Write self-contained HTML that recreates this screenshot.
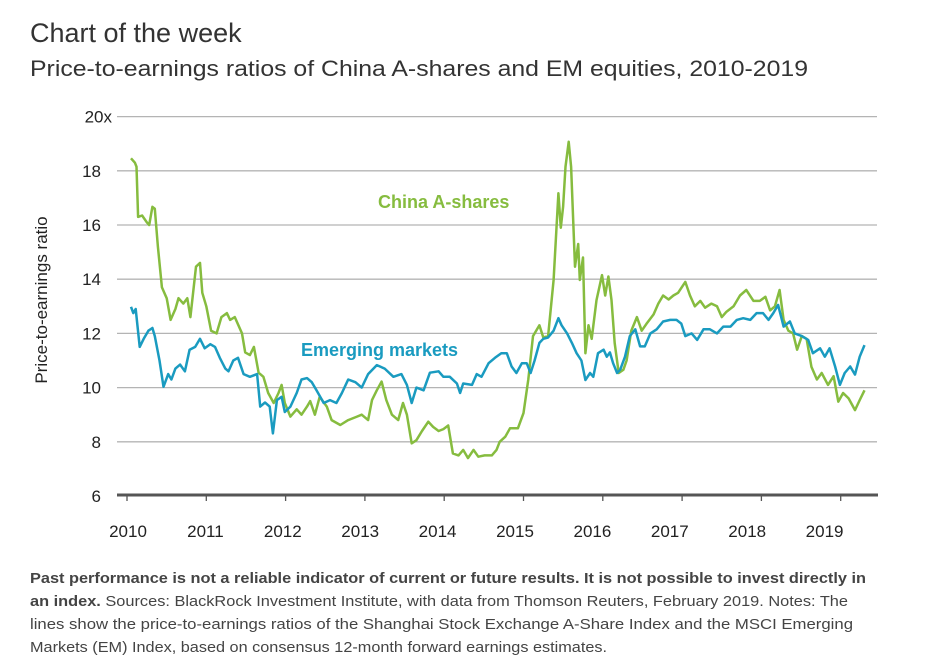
<!DOCTYPE html>
<html><head><meta charset="utf-8"><style>
html,body{margin:0;padding:0;background:#fff}
svg{display:block;font-family:"Liberation Sans",Arial,sans-serif}
</style></head><body>
<svg id="chart" width="932" height="671" viewBox="0 0 932 671">
<text x="30" y="42" font-size="27" fill="#333">Chart of the week</text>
<text x="30" y="76" font-size="22" fill="#333" textLength="778" lengthAdjust="spacingAndGlyphs">Price-to-earnings ratios of China A-shares and EM equities, 2010-2019</text>
<g id="grid"></g>
<g id="yticks"></g>
<g id="xaxis"></g>
<text transform="translate(47,300) rotate(-90)" text-anchor="middle" font-size="17" fill="#222">Price-to-earnings ratio</text>
<g id="series"></g>
<text x="378" y="208" font-size="18" font-weight="bold" fill="#86bc3f">China A-shares</text>
<text x="301" y="356" font-size="18" font-weight="bold" fill="#1a9bc0">Emerging markets</text>
<g font-size="15" fill="#444">
<text x="30" y="583" textLength="836" lengthAdjust="spacingAndGlyphs" font-weight="bold">Past performance is not a reliable indicator of current or future results. It is not possible to invest directly in</text>
<text x="30" y="606" textLength="818" lengthAdjust="spacingAndGlyphs"><tspan font-weight="bold">an index.</tspan> Sources: BlackRock Investment Institute, with data from Thomson Reuters, February 2019. Notes: The</text>
<text x="30" y="629" textLength="823" lengthAdjust="spacingAndGlyphs">lines show the price-to-earnings ratios of the Shanghai Stock Exchange A-Share Index and the MSCI Emerging</text>
<text x="30" y="652" textLength="577" lengthAdjust="spacingAndGlyphs">Markets (EM) Index, based on consensus 12-month forward earnings estimates.</text>
</g>
</svg>
<script>
const yTicks = [6, 8, 10, 12, 14, 16, 18, 20];
const yTickLabels = ["6", "8", "10", "12", "14", "16", "18", "20x"];
const xYears = [2010, 2011, 2012, 2013, 2014, 2015, 2016, 2017, 2018, 2019];
const xLabels = ["2010", "2011", "2012", "2013", "2014", "2015", "2016", "2017", "2018", "2019"];
const chinaDates = [2010.05,2010.10,2010.12,2010.14,2010.19,2010.25,2010.28,2010.32,2010.35,2010.39,2010.44,2010.50,2010.55,2010.61,2010.65,2010.71,2010.76,2010.80,2010.87,2010.92,2010.95,2011.00,2011.06,2011.13,2011.19,2011.26,2011.30,2011.36,2011.45,2011.49,2011.55,2011.60,2011.66,2011.72,2011.78,2011.85,2011.91,2011.95,2011.99,2012.06,2012.14,2012.20,2012.27,2012.31,2012.37,2012.43,2012.52,2012.58,2012.69,2012.79,2012.90,2012.96,2013.04,2013.09,2013.15,2013.21,2013.27,2013.34,2013.42,2013.48,2013.53,2013.59,2013.65,2013.72,2013.80,2013.86,2013.93,2013.99,2014.05,2014.11,2014.18,2014.24,2014.30,2014.37,2014.43,2014.51,2014.60,2014.66,2014.70,2014.77,2014.83,2014.93,2015.00,2015.06,2015.12,2015.20,2015.25,2015.31,2015.38,2015.44,2015.47,2015.50,2015.53,2015.57,2015.60,2015.65,2015.69,2015.71,2015.75,2015.78,2015.82,2015.86,2015.92,2015.99,2016.03,2016.07,2016.11,2016.15,2016.20,2016.26,2016.30,2016.36,2016.43,2016.49,2016.55,2016.64,2016.70,2016.76,2016.83,2016.89,2016.95,2017.04,2017.10,2017.16,2017.23,2017.29,2017.37,2017.44,2017.50,2017.56,2017.65,2017.73,2017.81,2017.90,2017.98,2018.05,2018.11,2018.17,2018.23,2018.28,2018.34,2018.40,2018.45,2018.51,2018.57,2018.63,2018.70,2018.76,2018.84,2018.91,2018.97,2019.03,2019.10,2019.18,2019.24,2019.30];
const chinaValues = [18.46,18.3,18.15,16.3,16.35,16.1,16.0,16.67,16.6,15.2,13.7,13.3,12.5,12.9,13.3,13.1,13.3,12.6,14.46,14.6,13.5,13.0,12.1,12.0,12.6,12.75,12.5,12.6,12.0,11.3,11.2,11.5,10.55,10.4,9.8,9.43,9.8,10.1,9.43,8.93,9.2,9.0,9.3,9.5,9.0,9.66,9.3,8.8,8.62,8.8,8.93,9.0,8.8,9.54,9.9,10.22,9.54,9.0,8.8,9.43,9.0,7.94,8.06,8.4,8.74,8.55,8.4,8.47,8.6,7.57,7.5,7.7,7.4,7.7,7.45,7.5,7.5,7.7,8.0,8.19,8.5,8.5,9.06,10.3,11.9,12.3,11.85,11.9,13.97,17.17,15.9,16.67,18.15,19.07,18.15,14.46,15.3,13.97,14.8,11.27,12.3,11.8,13.23,14.15,13.4,14.1,13.23,11.64,10.54,10.66,11.0,12.1,12.6,12.1,12.35,12.7,13.1,13.4,13.25,13.4,13.5,13.9,13.4,13.0,13.2,12.95,13.1,13.0,12.6,12.8,13.0,13.4,13.6,13.2,13.2,13.35,12.85,13.0,13.6,12.5,12.1,12.0,11.4,11.9,11.8,10.77,10.3,10.54,10.1,10.42,9.48,9.8,9.6,9.17,9.54,9.9];
const emDates = [2010.05,2010.08,2010.11,2010.16,2010.21,2010.27,2010.32,2010.35,2010.41,2010.46,2010.52,2010.56,2010.61,2010.67,2010.73,2010.79,2010.86,2010.92,2010.98,2011.05,2011.11,2011.17,2011.24,2011.28,2011.34,2011.40,2011.47,2011.55,2011.64,2011.68,2011.74,2011.80,2011.84,2011.89,2011.95,2011.99,2012.06,2012.14,2012.20,2012.27,2012.33,2012.39,2012.48,2012.56,2012.64,2012.71,2012.79,2012.88,2012.96,2013.04,2013.15,2013.25,2013.36,2013.46,2013.53,2013.59,2013.65,2013.74,2013.82,2013.93,2013.99,2014.07,2014.16,2014.20,2014.24,2014.35,2014.41,2014.47,2014.56,2014.64,2014.72,2014.79,2014.85,2014.91,2014.98,2015.04,2015.09,2015.14,2015.20,2015.25,2015.31,2015.38,2015.44,2015.48,2015.55,2015.61,2015.67,2015.73,2015.78,2015.84,2015.88,2015.94,2016.01,2016.05,2016.09,2016.13,2016.18,2016.22,2016.28,2016.34,2016.41,2016.47,2016.53,2016.60,2016.68,2016.76,2016.85,2016.93,2016.99,2017.04,2017.12,2017.19,2017.27,2017.35,2017.44,2017.52,2017.61,2017.69,2017.77,2017.86,2017.94,2018.02,2018.09,2018.15,2018.21,2018.28,2018.36,2018.42,2018.51,2018.59,2018.65,2018.74,2018.80,2018.86,2018.93,2018.99,2019.05,2019.12,2019.18,2019.24,2019.30];
const emValues = [12.98,12.75,12.9,11.5,11.8,12.1,12.2,11.9,11.0,10.03,10.5,10.3,10.7,10.85,10.6,11.4,11.5,11.8,11.45,11.6,11.5,11.1,10.7,10.6,11.0,11.1,10.5,10.4,10.5,9.3,9.45,9.3,8.31,9.54,9.66,9.1,9.3,9.8,10.3,10.35,10.2,9.9,9.43,9.54,9.43,9.8,10.3,10.2,10.0,10.5,10.83,10.7,10.4,10.5,10.1,9.43,10.0,9.9,10.55,10.6,10.4,10.4,10.15,9.8,10.15,10.1,10.5,10.4,10.9,11.1,11.27,11.27,10.78,10.54,10.9,10.9,10.54,11.0,11.65,11.8,11.85,12.1,12.56,12.3,12.0,11.65,11.27,11.0,10.28,10.54,10.4,11.27,11.4,11.14,11.3,10.9,10.54,10.66,11.14,11.9,12.15,11.52,11.52,12.0,12.15,12.44,12.5,12.5,12.36,11.9,12.0,11.76,12.15,12.15,12.0,12.25,12.25,12.5,12.56,12.5,12.75,12.75,12.5,12.75,13.05,12.25,12.44,12.0,11.9,11.76,11.27,11.45,11.14,11.45,10.78,10.1,10.54,10.78,10.48,11.14,11.57];

const NS = "http://www.w3.org/2000/svg";
function xScale(yr){ return 127 + (yr - 2010) * 79.3; }
function yScale(v){ return 496 - (v - 6) * 27.1; }
function labelX(i){ return 128 + i * 77.4; }
function mk(tag, attrs, parent){ const e = document.createElementNS(NS, tag); for (const k in attrs) e.setAttribute(k, attrs[k]); parent.appendChild(e); return e; }

const grid = document.getElementById('grid');
const yt = document.getElementById('yticks');
yTicks.forEach((v, i) => {
  if (i > 0) {
    const l = mk('line', {x1:117, x2:877, y1:yScale(v), y2:yScale(v), stroke:'#b4b4b4', 'stroke-width':1.3}, grid);
    
    
  }
  const t = mk('text', {x: i === yTicks.length - 1 ? 112 : 101, y: yScale(v) + 6, 'text-anchor':'end', 'font-size':17, fill:'#222'}, yt);
  t.textContent = yTickLabels[i];
  
  
});

const xa = document.getElementById('xaxis');
const ax = mk('line', {x1:117, x2:878, y1:495, y2:495, stroke:'#555', 'stroke-width':3}, xa);


xYears.forEach((yr, i) => {
  const tk = mk('line', {x1:xScale(yr), x2:xScale(yr), y1:495, y2:501, stroke:'#555', 'stroke-width':1.3}, xa);
  
  
  const t = mk('text', {x: labelX(i), y: 537, 'text-anchor':'middle', 'font-size':17, fill:'#222'}, xa);
  t.textContent = xLabels[i];
  
  
});

const sg = document.getElementById('series');
function drawLine(dates, vals, color, name){
  const d = dates.map((yr, i) => (i ? 'L' : 'M') + xScale(yr).toFixed(1) + ',' + yScale(vals[i]).toFixed(1)).join(' ');
  const p = mk('path', {d: d, fill:'none', stroke: color, 'stroke-width':2.5, 'stroke-linejoin':'round'}, sg);
  
  
}
drawLine(chinaDates, chinaValues, '#86bc3f', 'china-a-shares-line');
drawLine(emDates, emValues, '#1a9bc0', 'emerging-markets-line');
</script>
</body></html>
